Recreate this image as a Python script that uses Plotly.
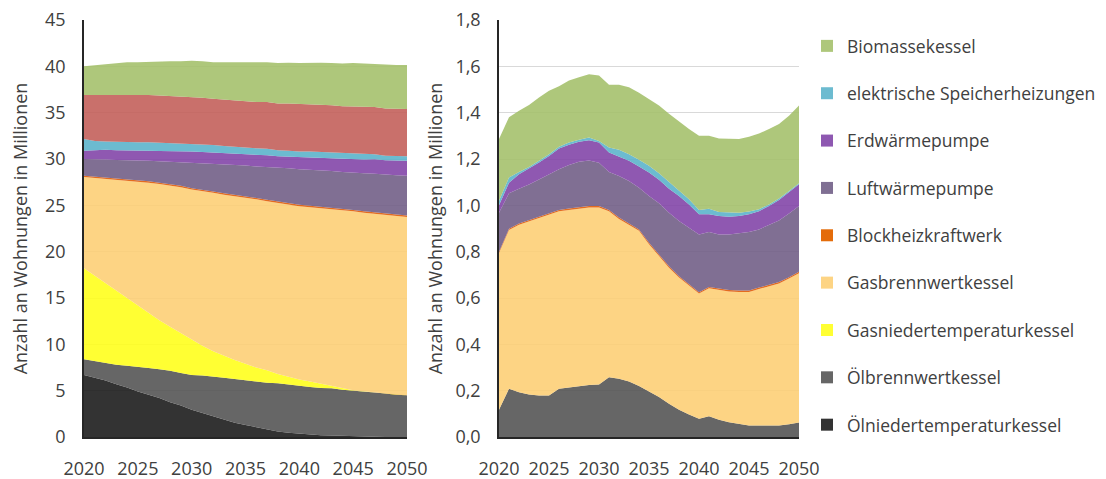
import plotly.graph_objects as go

years = list(range(2020, 2051))

names = ["Ölniedertemperaturkessel", "Ölbrennwertkessel", "Gasniedertemperaturkessel",
         "Gasbrennwertkessel", "Blockheizkraftwerk", "Luftwärmepumpe", "Erdwärmepumpe",
         "elektrische Speicherheizungen", "Fernwärme", "Biomassekessel"]

# Left chart (all dwellings, millions)
oel_nt_L = [6.7, 6.4, 6.1, 5.7, 5.35, 4.9, 4.55, 4.2, 3.75, 3.4, 2.95, 2.6, 2.2, 1.85, 1.55, 1.3,
            1.05, 0.8, 0.6, 0.45, 0.35, 0.25, 0.2, 0.15, 0.1, 0.05, 0.03, 0.02, 0.01, 0, 0]
oel_bw_L = [1.7, 1.8, 1.85, 2.1, 2.35, 2.7, 2.9, 3.1, 3.4, 3.5, 3.75, 4.05, 4.35, 4.55, 4.7, 4.8,
            4.95, 5.05, 5.2, 5.2, 5.15, 5.15, 5.1, 5.1, 5.0, 4.95, 4.87, 4.78, 4.64, 4.55, 4.5]
gas_nt_L = [9.8, 9.2, 8.65, 8.0, 7.3, 6.6, 5.95, 5.3, 4.75, 4.3, 3.8, 3.2, 2.7, 2.35, 2.05, 1.8,
            1.5, 1.35, 1.0, 0.85, 0.7, 0.6, 0.45, 0.25, 0.15, 0.05, 0.05, 0.02, 0.01, 0, 0]
gas_bw_L = [9.85, 10.55, 11.25, 11.95, 12.7, 13.4, 14.05, 14.7, 15.25, 15.75, 16.2, 16.7, 17.1,
            17.4, 17.7, 17.9, 18.15, 18.25, 18.45, 18.55, 18.7, 18.8, 18.95, 19.1, 19.2, 19.3,
            19.25, 19.25, 19.3, 19.3, 19.25]
bhkw_L = [0.15] * 31
luft_L = [1.8, 1.9, 1.95, 2.0, 2.05, 2.1, 2.2, 2.3, 2.4, 2.55, 2.75, 2.85, 3.0, 3.15, 3.2, 3.35,
          3.4, 3.55, 3.65, 3.8, 3.85, 3.9, 3.95, 3.95, 4.0, 4.0, 4.1, 4.2, 4.2, 4.25, 4.3]
erd_L = [0.9, 0.95, 1.05, 1.05, 1.05, 1.05, 1.1, 1.1, 1.15, 1.15, 1.2, 1.2, 1.2, 1.2, 1.2, 1.2,
         1.25, 1.25, 1.25, 1.25, 1.3, 1.35, 1.35, 1.4, 1.45, 1.5, 1.5, 1.55, 1.55, 1.6, 1.6]
speicher_L = [1.25, 1.0, 0.9, 0.9, 0.9, 0.9, 0.9, 0.9, 0.85, 0.85, 0.85, 0.8, 0.8, 0.75, 0.75, 0.7,
              0.7, 0.7, 0.65, 0.65, 0.6, 0.6, 0.6, 0.6, 0.55, 0.55, 0.55, 0.55, 0.5, 0.5, 0.5]
fernw_L = [4.75, 4.95, 5.05, 5.05, 5.1, 5.1, 5.1, 5.1, 5.1, 5.05, 5.05, 5.05, 5.0, 5.0, 5.0, 5.0,
           5.0, 5.05, 5.05, 5.1, 5.15, 5.15, 5.15, 5.1, 5.1, 5.1, 5.1, 5.1, 5.1, 5.1, 5.1]
bio_L = [3.1, 3.2, 3.3, 3.4, 3.5, 3.55, 3.6, 3.7, 3.75, 3.85, 3.9, 3.95, 3.95, 4.05, 4.15, 4.25,
         4.3, 4.3, 4.35, 4.4, 4.4, 4.45, 4.5, 4.55, 4.6, 4.7, 4.7, 4.65, 4.7, 4.7, 4.75]

# Right chart (millions)
oel_nt_R = [0] * 31
oel_bw_R = [0.118, 0.208, 0.193, 0.183, 0.179, 0.179, 0.208, 0.214, 0.219, 0.225, 0.227, 0.258,
            0.251, 0.24, 0.22, 0.198, 0.173, 0.144, 0.118, 0.097, 0.079, 0.09, 0.075, 0.064,
            0.056, 0.05, 0.05, 0.05, 0.05, 0.055, 0.063]
gas_nt_R = [0] * 31
gas_bw_R = [0.676, 0.685, 0.723, 0.747, 0.766, 0.78, 0.766, 0.766, 0.767, 0.766, 0.764, 0.716,
            0.69, 0.676, 0.67, 0.634, 0.609, 0.587, 0.57, 0.555, 0.54, 0.552, 0.559, 0.564,
            0.57, 0.576, 0.589, 0.6, 0.613, 0.629, 0.644]
bhkw_R = [0.006] * 31
luft_R = [0.168, 0.153, 0.15, 0.154, 0.161, 0.169, 0.176, 0.188, 0.196, 0.196, 0.187, 0.164,
          0.18, 0.183, 0.18, 0.202, 0.221, 0.231, 0.238, 0.245, 0.249, 0.237, 0.234, 0.24,
          0.247, 0.253, 0.251, 0.259, 0.266, 0.275, 0.284]
erd_R = [0.032, 0.046, 0.062, 0.068, 0.073, 0.079, 0.089, 0.087, 0.086, 0.088, 0.087, 0.084,
         0.084, 0.087, 0.092, 0.102, 0.101, 0.104, 0.108, 0.101, 0.087, 0.076, 0.08, 0.077,
         0.075, 0.076, 0.079, 0.082, 0.088, 0.09, 0.094]
speicher_R = [0.02, 0.022, 0.01, 0.008, 0.007, 0.007, 0.008, 0.01, 0.009, 0.012, 0.007, 0.022,
              0.029, 0.029, 0.029, 0.029, 0.029, 0.029, 0.022, 0.022, 0.019, 0.024, 0.017, 0.017,
              0.014, 0.012, 0.008, 0.007, 0.006, 0.007, 0.004]
fernw_R = [0] * 31
bio_R = [0.266, 0.26, 0.264, 0.267, 0.274, 0.275, 0.261, 0.268, 0.27, 0.273, 0.282, 0.27, 0.28,
         0.289, 0.289, 0.289, 0.292, 0.294, 0.299, 0.304, 0.32, 0.315, 0.318, 0.318, 0.318,
         0.323, 0.327, 0.326, 0.322, 0.325, 0.336]

left_series = [oel_nt_L, oel_bw_L, gas_nt_L, gas_bw_L, bhkw_L, luft_L, erd_L, speicher_L, fernw_L, bio_L]
right_series = [oel_nt_R, oel_bw_R, gas_nt_R, gas_bw_R, bhkw_R, luft_R, erd_R, speicher_R, fernw_R, bio_R]

colors = ["#333333", "#666666", "#FFFF33", "#FDD484", "#E46C0A", "#7F6F93", "#8E58B1",
          "#6CBBD0", "#C9706B", "#AEC77B"]
in_legend = [True, True, True, True, True, True, True, True, False, True]

ALPHA = 0.88


def fill_rgba(hexc):
    r, g, b = int(hexc[1:3], 16), int(hexc[3:5], 16), int(hexc[5:7], 16)
    f = lambda c: max(0, min(255, round((c - (1 - ALPHA) * 255) / ALPHA)))
    return f"rgba({f(r)},{f(g)},{f(b)},{ALPHA})"


fig = go.Figure()
for name, vals, col in zip(names, left_series, colors):
    fig.add_trace(go.Scatter(x=years, y=vals, name=name, stackgroup="L", mode="lines",
                             line=dict(width=0, color=col), fillcolor=fill_rgba(col),
                             showlegend=False, xaxis="x", yaxis="y", hoverinfo="x+y+name"))
for name, vals, col in zip(names, right_series, colors):
    fig.add_trace(go.Scatter(x=years, y=vals, name=name, stackgroup="R", mode="lines",
                             line=dict(width=0, color=col), fillcolor=fill_rgba(col),
                             showlegend=False, xaxis="x2", yaxis="y2", hoverinfo="x+y+name"))
# legend entries (square swatches), top of stack listed first
for name, col, show in reversed(list(zip(names, colors, in_legend))):
    if not show:
        continue
    fig.add_trace(go.Scatter(x=[None], y=[None], name=name, mode="markers",
                             marker=dict(symbol="square", size=12, color=col),
                             legendgroup=name, showlegend=True, xaxis="x2", yaxis="y2"))

FONT = "Open Sans"
TXT = "#404040"
FS = 18
LFS = 17.5
# the page body has an 8px margin; figure coordinates = window coordinates - 8
W, H = 1098, 471
ybot, ytop = (H - 429) / H, (H - 12) / H

common_x = dict(range=[2020, 2050], tick0=2020, dtick=5, showgrid=False, zeroline=False,
                showline=True, linecolor="#262626", linewidth=1.5, ticks="",
                ticklabelstandoff=15, ticklabeloverflow="allow",
                tickfont=dict(size=FS, color=TXT, family=FONT),
                automargin=False, fixedrange=True)
common_y = dict(showgrid=True, gridcolor="#D9D9D9", gridwidth=1, zeroline=False,
                showline=True, linecolor="#262626", linewidth=1.5, ticks="",
                ticklabelstandoff=13, ticklabeloverflow="allow",
                tickfont=dict(size=FS, color=TXT, family=FONT),
                automargin=False, fixedrange=True)
ytitle = "Anzahl an Wohnungen in Millionen"

fig.update_layout(
    width=W, height=H,
    margin=dict(l=0, r=0, t=0, b=0),
    paper_bgcolor="white", plot_bgcolor="white",
    separators=",.",
    font=dict(family=FONT, color=TXT, size=FS),
    xaxis=dict(domain=[76 / W, 399 / W], anchor="y", **common_x),
    yaxis=dict(domain=[ybot, ytop], anchor="x", range=[0, 45], tick0=0, dtick=5,
               title=dict(text=ytitle, standoff=18, font=dict(size=FS, color=TXT, family=FONT)),
               **common_y),
    xaxis2=dict(domain=[491 / W, 791 / W], anchor="y2", **common_x),
    yaxis2=dict(domain=[ybot, ytop], anchor="x2", range=[0, 1.8], tick0=0, dtick=0.2,
                tickformat=".1f",
                title=dict(text=ytitle, standoff=8, font=dict(size=FS, color=TXT, family=FONT)),
                **common_y),
    legend=dict(x=799 / W, y=1 - 20 / H, xanchor="left", yanchor="top",
                traceorder="grouped", tracegroupgap=21.6,
                font=dict(size=LFS, color=TXT, family=FONT), bgcolor="rgba(0,0,0,0)",
                itemclick=False, itemdoubleclick=False),
    showlegend=True,
)

fig.write_html("out.html")
